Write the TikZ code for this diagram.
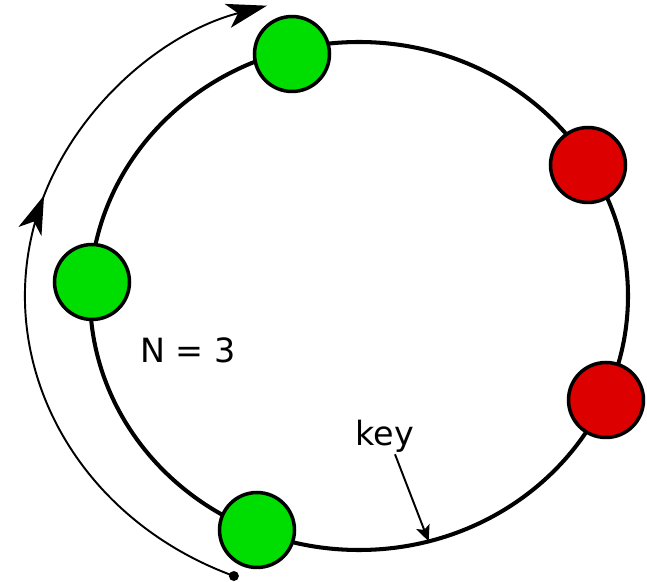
\documentclass[tikz,border=0pt]{standalone}
\usepackage{fontspec}
\setmainfont{DejaVu Sans}
\usetikzlibrary{arrows.meta,decorations.markings,calc}
\definecolor{livegreen}{HTML}{00DD00}
\definecolor{deadred}{HTML}{DD0000}

\begin{document}
\begin{tikzpicture}[x=0.02cm,y=0.02cm,
    replica/.style={circle,draw,line width=2pt,minimum size=1.5cm,inner sep=0pt},
    txt/.style={font=\fontsize{19}{23}\selectfont,inner sep=1pt},
    bigtip/.style={-{Stealth[length=23pt,width=14pt,inset=6pt]}}]
    \useasboundingbox (0,0) rectangle (647,582);
    \coordinate (c) at (359,286);

    % Ring
    \draw[line width=2.3pt] (c) ellipse [x radius=269, y radius=254];

    % Walk along the ring
    \coordinate (start) at ($(c)+(248:334 and 302)$);
    \draw[line width=1.1pt,bigtip,
        postaction={decorate},
        decoration={markings,mark=at position 0.61 with {\arrow{Stealth[length=22pt,width=14pt,inset=6pt]}}}]
        (start) arc [start angle=248, end angle=106, x radius=334, y radius=302];
    \fill (start) circle [radius=5];

    % Replicas
    \foreach \name/\pos in {g1/{(292,528)}, g2/{(92,300)}, g3/{(257,52)}}
        \node[replica,fill=livegreen] (\name) at \pos {};
    \foreach \name/\pos in {r1/{(588,417)}, r2/{(606,182)}}
        \node[replica,fill=deadred] (\name) at \pos {};

    % Labels
    \node[txt] (n) at (188,232) {N = 3};
    \node[txt] (key) at (385,146) {key};
    \coordinate (keypt) at ($(c)+(-75:269 and 254)$);
    \draw[line width=1.1pt,-{Stealth[length=9pt,width=8pt,inset=2pt]}] ([xshift=0.2cm]key.south) -- (keypt);
\end{tikzpicture}
\end{document}
